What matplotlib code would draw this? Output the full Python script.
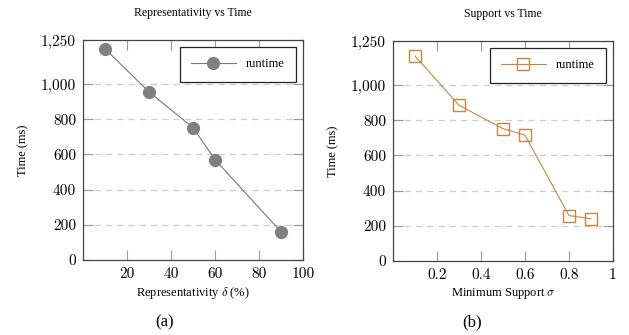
import matplotlib
matplotlib.use("Agg")
import matplotlib.pyplot as plt

# --- data ---
rep_x = [10, 30, 50, 60, 90]
rep_time = [1200, 955, 752, 570, 160]

sup_x = [0.1, 0.3, 0.5, 0.6, 0.8, 0.9]
sup_time = [1165, 885, 752, 715, 258, 240]

y_ticks = [0, 200, 400, 600, 800, 1000, 1250]
y_labels = ["0", "200", "400", "600", "800", "1,000", "1,250"]
rep_xticks = [20, 40, 60, 80, 100]
sup_xticks = [0.2, 0.4, 0.6, 0.8, 1.0]
sup_xlabels = ["0.2", "0.4", "0.6", "0.8", "1"]

plt.rcParams["font.family"] = ["Liberation Serif", "DejaVu Serif"]
plt.rcParams["mathtext.fontset"] = "cm"

W, H = 629, 335
fig = plt.figure(figsize=(W / 100, H / 100), dpi=100)

tick_font = {"family": "cmr10", "size": 11}
frame_col = "#444444"
tick_col = "#999999"
grid_col = "#cccccc"


def style_axes(ax, xlim, xticks, xlabels, xlabel, title):
    ax.set_xlim(*xlim)
    ax.set_ylim(0, 1250)
    ax.set_xticks(xticks, labels=xlabels)
    ax.set_yticks(y_ticks, labels=y_labels)
    for lab in ax.get_xticklabels() + ax.get_yticklabels():
        lab.set_fontfamily(tick_font["family"])
        lab.set_fontsize(tick_font["size"])
    ax.tick_params(direction="in", length=7, width=0.8, color=tick_col,
                   top=True, right=True, pad=5, labelcolor="black")
    for s in ax.spines.values():
        s.set_color(frame_col)
        s.set_linewidth(0.9)
    for yv in y_ticks[1:-1]:
        ax.axhline(yv, color=grid_col, lw=0.9, ls=(0, (5, 4)), zorder=0)
    ax.set_xlabel(xlabel, fontsize=9, labelpad=3)
    ax.set_ylabel("Time (ms)", fontsize=9, labelpad=8)
    ax.set_title(title, fontsize=8.5, pad=17)


ax1 = fig.add_axes([83 / W, 75 / H, 220 / W, 220 / H])
ax1.plot(rep_x, rep_time, color="#777777", lw=0.8, marker="o", ms=8.5,
         mfc="#808080", mec="#808080", label="runtime")
style_axes(ax1, (0, 100), rep_xticks, [str(v) for v in rep_xticks],
           r"Representativity $\delta$ (%)", "Representativity vs Time")

ax2 = fig.add_axes([393 / W, 74 / H, 220 / W, 220 / H])
ax2.plot(sup_x, sup_time, color="#c98440", lw=0.8, marker="s", ms=8,
         mfc="none", mec="#c98440", mew=1.0, label="runtime")
style_axes(ax2, (0, 1), sup_xticks, sup_xlabels,
           r"Minimum Support $\sigma$", "Support vs Time")

for ax in (ax1, ax2):
    leg = ax.legend(loc="upper right", fontsize=9, handlelength=3.6,
                    fancybox=False, framealpha=1, borderpad=0.9,
                    borderaxespad=0, bbox_to_anchor=(0.968, 0.968))
    leg.get_frame().set_edgecolor("#222222")
    leg.get_frame().set_linewidth(0.9)

fig.text(165 / W, 1 - 322 / H, "(a)", ha="center", va="center", fontsize=12)
fig.text(472 / W, 1 - 322 / H, "(b)", ha="center", va="center", fontsize=12)

fig.savefig("out.png", dpi=100)
